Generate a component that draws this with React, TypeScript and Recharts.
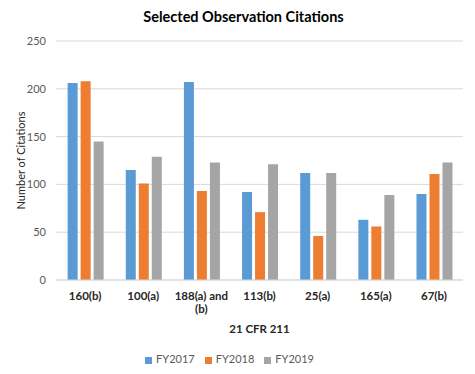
import { BarChart, Bar, XAxis, YAxis, CartesianGrid, Legend } from 'recharts'

const categories = ['160(b)', '100(a)', '188(a) and (b)', '113(b)', '25(a)', '165(a)', '67(b)']
const fy2017 = [206, 115, 207, 92, 112, 63, 90]
const fy2018 = [208, 101, 93, 71, 46, 56, 111]
const fy2019 = [145, 129, 123, 121, 112, 89, 123]
const yTicks = [0, 50, 100, 150, 200, 250]

const data = categories.map((name, i) => ({
  name,
  FY2017: fy2017[i],
  FY2018: fy2018[i],
  FY2019: fy2019[i],
}))

const FONT = 'Lato, "Open Sans", sans-serif'

// Excel-style wrap: break long labels at the last space
function CategoryTick(props: any) {
  const { x, y, payload } = props
  const label: string = payload.value
  let lines = [label]
  if (label.length > 10) {
    const cut = label.lastIndexOf(' ')
    lines = [label.slice(0, cut), label.slice(cut + 1)]
  }
  return (
    <text x={x} y={y + 12} textAnchor="middle" fontFamily={FONT} fontSize={11.5} fontWeight={700} fill="#262626">
      {lines.map((l, i) => (
        <tspan key={i} x={x} dy={i === 0 ? 0 : 13}>
          {l}
        </tspan>
      ))}
    </text>
  )
}

export default function App() {
  return (
    <div style={{ position: 'fixed', left: 0, top: 0, width: 475, height: 374, background: '#fff' }}>
      <div
        style={{
          position: 'absolute',
          top: 8,
          width: 475,
          textAlign: 'center',
          fontFamily: FONT,
          fontWeight: 700,
          fontSize: 14.5,
          color: '#000',
          lineHeight: '18px',
          paddingLeft: 6,
        }}
      >
        Selected Observation Citations
      </div>
      <BarChart
        width={475}
        height={374}
        data={data}
        margin={{ top: 41, right: 12, left: 0, bottom: 4 }}
        barCategoryGap="20%"
        barGap={3}
      >
        <CartesianGrid vertical={false} stroke="#D9D9D9" />
        <XAxis
          dataKey="name"
          height={66}
          tickLine={false}
          axisLine={{ stroke: '#D9D9D9' }}
          tick={<CategoryTick />}
          interval={0}
          label={{
            value: '21 CFR 211',
            position: 'insideBottom',
            offset: 13,
            style: { fontFamily: FONT, fontSize: 11.5, fontWeight: 700, fill: '#262626' },
          }}
        />
        <YAxis
          width={56}
          domain={[0, 250]}
          ticks={yTicks}
          tickLine={false}
          axisLine={false}
          tickMargin={4}
          tick={{ fontFamily: FONT, fontSize: 11, fill: '#595959' }}
          label={{
            value: 'Number of Citations',
            angle: -90,
            position: 'center',
            dx: -7,
            style: { fontFamily: FONT, fontSize: 11, fill: '#262626', textAnchor: 'middle' },
          }}
        />
        <Legend
          verticalAlign="bottom"
          height={24}
          iconType="square"
          iconSize={7}
          wrapperStyle={{ fontFamily: FONT, fontSize: 11, bottom: -2, left: 3 }}
          formatter={(v: string) => <span style={{ color: '#595959' }}>{v}</span>}
        />
        <Bar dataKey="FY2017" fill="#5B9BD5" isAnimationActive={false} />
        <Bar dataKey="FY2018" fill="#ED7D31" isAnimationActive={false} />
        <Bar dataKey="FY2019" fill="#A5A5A5" isAnimationActive={false} />
      </BarChart>
    </div>
  )
}
